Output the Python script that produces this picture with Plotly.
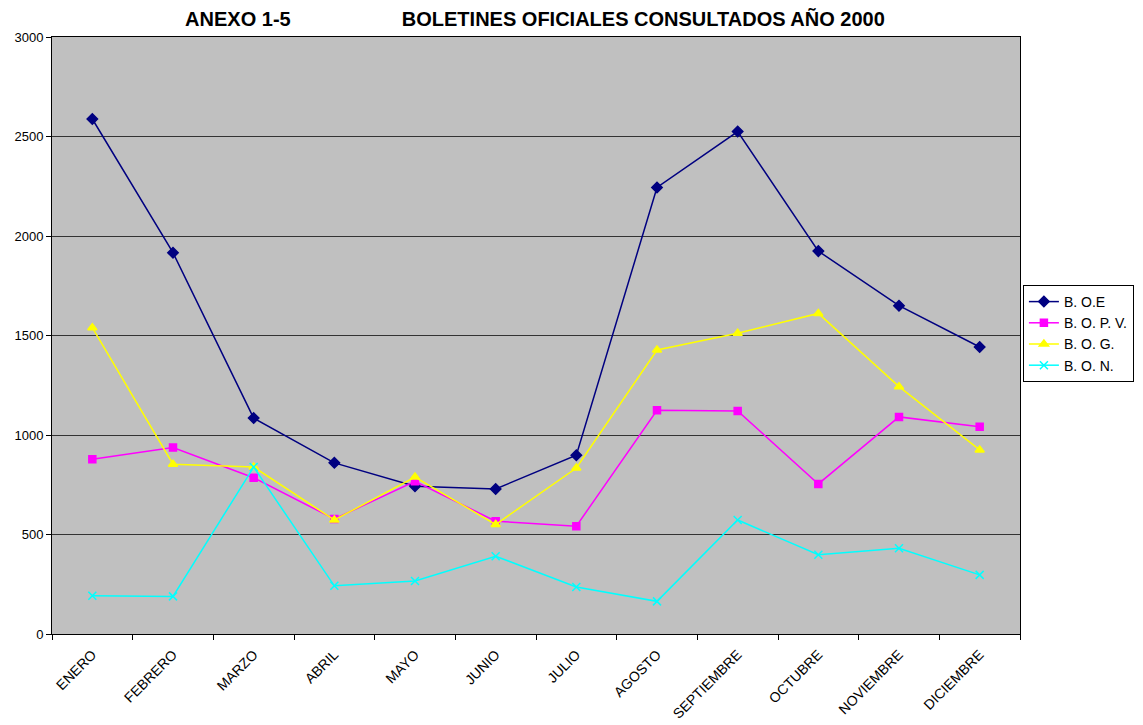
import plotly.graph_objects as go

# Datos (consultas mensuales por boletín, año 2000)
MESES = ["ENERO", "FEBRERO", "MARZO", "ABRIL", "MAYO", "JUNIO", "JULIO",
         "AGOSTO", "SEPTIEMBRE", "OCTUBRE", "NOVIEMBRE", "DICIEMBRE"]

BOE = [2588, 1916, 1085, 860, 742, 729, 898, 2244, 2525, 1924, 1650, 1442]
BOPV = [878, 937, 785, 578, 767, 567, 542, 1124, 1121, 754, 1091, 1042]
BOG = [1539, 853, 839, 573, 789, 550, 834, 1427, 1511, 1611, 1243, 925]
BON = [192, 189, 839, 242, 266, 391, 236, 164, 573, 398, 431, 297]

SERIES = [
    ("B. O.E", BOE, "#000080", "diamond", 8),
    ("B. O. P. V.", BOPV, "#FF00FF", "square", 7),
    ("B. O. G.", BOG, "#FFFF00", "triangle-up", 8),
    ("B. O. N.", BON, "#00FFFF", "x-thin-open", 8),
]

FUENTE = "Liberation Sans, Arial, sans-serif"

fig = go.Figure()
for nombre, valores, color, simbolo, tam in SERIES:
    fig.add_trace(
        go.Scatter(
            x=MESES,
            y=valores,
            mode="lines+markers",
            name=nombre,
            line=dict(color=color, width=1.5),
            marker=dict(symbol=simbolo, size=tam, color=color,
                        line=dict(color=color, width=1.5)),
        )
    )

# la página tiene 8 px de margen del body: el lienzo se reduce en 8 px por lado
ESP = "\u00a0" * 20
fig.update_layout(
    width=1135,
    height=717,
    paper_bgcolor="white",
    plot_bgcolor="#C0C0C0",
    font=dict(family=FUENTE, color="black", size=12),
    title=dict(
        text=f"<b>ANEXO 1-5{ESP}BOLETINES OFICIALES CONSULTADOS AÑO 2000</b>",
        x=0.4643,
        xanchor="center",
        y=0.9847,
        yanchor="middle",
        font=dict(family=FUENTE, size=20, color="black"),
    ),
    margin=dict(l=44, r=123, t=29, b=91, autoexpand=False),
    showlegend=True,
    legend=dict(
        x=1.003,
        xanchor="left",
        y=0.5846,
        yanchor="top",
        bgcolor="white",
        bordercolor="black",
        borderwidth=1,
        font=dict(family=FUENTE, size=14, color="black"),
        tracegroupgap=0,
        itemwidth=30,
    ),
    xaxis=dict(
        type="category",
        range=[-0.5, len(MESES) - 0.5],
        automargin=False,
        tickangle=-45,
        tickson="boundaries",
        ticks="outside",
        ticklen=5,
        tickcolor="black",
        ticklabelstandoff=6,
        showgrid=False,
        showline=True,
        linecolor="black",
        linewidth=1,
        mirror=True,
        tickfont=dict(family=FUENTE, size=14),
    ),
    yaxis=dict(
        range=[0, 3000],
        dtick=500,
        automargin=False,
        ticks="outside",
        ticklen=5,
        tickcolor="black",
        showgrid=True,
        gridcolor="#333333",
        gridwidth=1,
        showline=True,
        linecolor="black",
        linewidth=1,
        mirror=True,
        zeroline=False,
        tickfont=dict(family=FUENTE, size=13),
    ),
)

fig.write_html("out.html")
